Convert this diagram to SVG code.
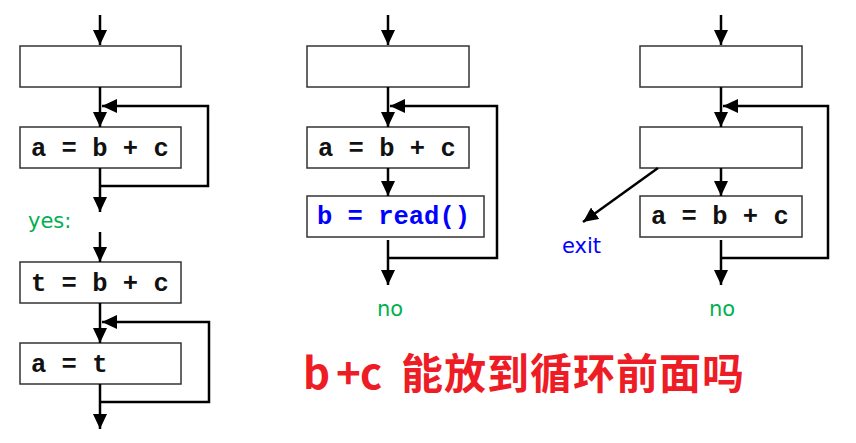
<svg xmlns="http://www.w3.org/2000/svg" width="856" height="443" viewBox="0 0 856 443">
<defs>
<marker id="ah" markerUnits="userSpaceOnUse" markerWidth="15" markerHeight="14" refX="15" refY="7" orient="auto">
<path d="M0,0 L15,7 L0,14 z" fill="#000"/>
</marker>
<style>
.box{fill:#fff;stroke:#333;stroke-width:1.5}
.code{font-family:"Liberation Mono","Courier New",monospace;font-weight:bold;font-size:25.5px;fill:#111}
.blue{fill:#0000ff}
.lbl{font-family:"DejaVu Sans",Verdana,sans-serif;font-size:21px}
.grn{fill:#00b050}
.c{fill:none;stroke:#000;stroke-width:2.5;marker-end:url(#ah)}
.big{font-family:"Noto Sans CJK SC",sans-serif;font-weight:bold;font-size:42px;fill:#ee1c25}
</style>
</defs>
<rect width="856" height="443" fill="#fff"/>
<g id="L1"><rect class="box" x="20" y="46" width="161" height="41"/></g>
<g id="L2"><rect class="box" x="20" y="127" width="161" height="41"/><text class="code" x="31" y="156">a = b + c</text></g>
<g id="L3"><rect class="box" x="20" y="262" width="161" height="41"/><text class="code" x="31" y="291">t = b + c</text></g>
<g id="L4"><rect class="box" x="20" y="343" width="161" height="41"/><text class="code" x="31" y="372">a = t</text></g>
<g id="M1"><rect class="box" x="307" y="46" width="162" height="41"/></g>
<g id="M2"><rect class="box" x="307" y="127" width="162" height="41"/><text class="code" x="318" y="156">a = b + c</text></g>
<g id="M3"><rect class="box" x="307" y="196" width="177" height="41"/><text class="code blue" x="317" y="224">b = read()</text></g>
<g id="R1"><rect class="box" x="640" y="46" width="162" height="41"/></g>
<g id="R2"><rect class="box" x="640" y="127" width="162" height="41"/></g>
<g id="R3"><rect class="box" x="640" y="196" width="162" height="41"/><text class="code" x="651" y="224">a = b + c</text></g>
<g id="labels">
<text class="lbl grn" x="28" y="228">yes:</text>
<text class="lbl grn" x="377" y="316">no</text>
<text class="lbl grn" x="709" y="316">no</text>
<text class="lbl blue" x="562" y="253">exit</text>
<text class="big" y="389"><tspan x="303">b</tspan><tspan x="336">+</tspan><tspan x="360">c</tspan><tspan x="401" letter-spacing="1">能放到循环前面吗</tspan></text>
</g>
<g id="connectors">
<path class="c" d="M100,15 V45"/>
<path class="c" d="M100,87 V127"/>
<path class="c" d="M100,186 H208 V106 H102"/>
<path class="c" d="M100,168 V212"/>
<path class="c" d="M100,232 V262"/>
<path class="c" d="M100,303 V343"/>
<path class="c" d="M100,402 H209 V322 H102"/>
<path class="c" d="M100,384 V429"/>
<path class="c" d="M388,15 V45"/>
<path class="c" d="M388,87 V127"/>
<path class="c" d="M388,258 H497 V106 H390"/>
<path class="c" d="M388,168 V196"/>
<path class="c" d="M388,240 V285"/>
<path class="c" d="M721,15 V45"/>
<path class="c" d="M721,87 V127"/>
<path class="c" d="M721,258 H828 V106 H723"/>
<path class="c" d="M721,168 V196"/>
<path class="c" d="M721,240 V285"/>
<path class="c" d="M658,168 L583,222"/>
</g>
</svg>
